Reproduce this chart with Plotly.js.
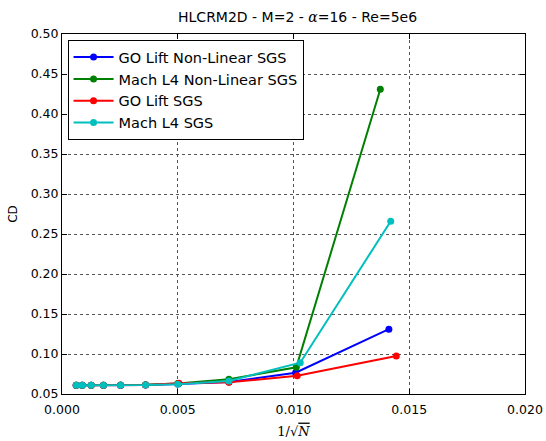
<!DOCTYPE html>
<html>
<head>
<meta charset="utf-8">
<script src="https://cdn.plot.ly/plotly-3.0.1.min.js"></script>
<style>html,body{margin:0;padding:0;background:#fff;}#chart{width:546px;height:441px;}</style>
</head>
<body>
<div id="chart"></div>
<script>
const seriesNames = ["GO Lift Non-Linear SGS", "Mach L4 Non-Linear SGS", "GO Lift SGS", "Mach L4 SGS"];
const seriesColors = ["#0000ff", "#008000", "#ff0000", "#00bfbf"];

const xGoLiftNL = [0.000614, 0.000873, 0.00126, 0.00179, 0.00253, 0.00361, 0.00500, 0.00721, 0.01009, 0.01412];
const yGoLiftNL = [0.0610, 0.0610, 0.0610, 0.0610, 0.0610, 0.0612, 0.0625, 0.0650, 0.0766, 0.131];

const xMachNL = [0.000614, 0.000873, 0.00126, 0.00179, 0.00253, 0.00361, 0.00500, 0.00721, 0.01012, 0.01375];
const yMachNL = [0.0610, 0.0610, 0.0610, 0.0610, 0.0612, 0.0615, 0.0630, 0.0684, 0.0834, 0.431];

const xGoLift = [0.000614, 0.000873, 0.00126, 0.00179, 0.00253, 0.00361, 0.00505, 0.00721, 0.01016, 0.01444];
const yGoLift = [0.0610, 0.0610, 0.0610, 0.0610, 0.0610, 0.0612, 0.0635, 0.0646, 0.0729, 0.0975];

const xMach = [0.000614, 0.000873, 0.00126, 0.00179, 0.00253, 0.00361, 0.00500, 0.00721, 0.01029, 0.01420];
const yMach = [0.0610, 0.0610, 0.0610, 0.0610, 0.0610, 0.0612, 0.0622, 0.0663, 0.0891, 0.266];

const xTickVals = [0, 0.005, 0.01, 0.015, 0.02];
const xTickText = ["0.000", "0.005", "0.010", "0.015", "0.020"];
const yTickVals = [0.05, 0.10, 0.15, 0.20, 0.25, 0.30, 0.35, 0.40, 0.45, 0.50];
const yTickText = ["0.05", "0.10", "0.15", "0.20", "0.25", "0.30", "0.35", "0.40", "0.45", "0.50"];

const xs = [xGoLiftNL, xMachNL, xGoLift, xMach];
const ys = [yGoLiftNL, yMachNL, yGoLift, yMach];

const traces = seriesNames.map((n, i) => ({
  type: "scatter", mode: "lines+markers", name: n,
  x: xs[i], y: ys[i],
  line: {color: seriesColors[i], width: 2},
  marker: {color: seriesColors[i], size: 7}
}));

const axisCommon = {
  showline: true, linecolor: "#000", linewidth: 1, mirror: "ticks",
  ticks: "inside", ticklen: 5, tickcolor: "#000",
  showgrid: true, gridcolor: "#555", gridwidth: 1, griddash: "dot",
  zeroline: false,
  tickfont: {family: "DejaVu Sans", size: 12.5, color: "#000"}
};

const layout = {
  width: 546, height: 441,
  margin: {l: 62, r: 21, t: 34, b: 47},
  paper_bgcolor: "#fff", plot_bgcolor: "#fff",
  title: {text: "HLCRM2D - M=2 - <i style='font-family:DejaVu Serif'>α</i>=16 - Re=5e6", x: 0.545, xanchor: "center", y: 0.962, yanchor: "middle",
          font: {family: "DejaVu Sans", size: 14, color: "#000"}},
  xaxis: Object.assign({}, axisCommon, {
    range: [0, 0.02], tickvals: xTickVals, ticktext: xTickText,
    ticklabelstandoff: 4,
    title: {text: "1/√<span style='text-decoration:overline'><i>N</i></span>", standoff: 10,
            font: {family: "DejaVu Serif", size: 13, color: "#000"}}
  }),
  yaxis: Object.assign({}, axisCommon, {
    range: [0.05, 0.5], tickvals: yTickVals, ticktext: yTickText,
    title: {text: "CD", standoff: 10, font: {family: "DejaVu Sans", size: 12, color: "#000"}}
  }),
  showlegend: true,
  legend: {x: 0.012, y: 0.983, xanchor: "left", yanchor: "top",
           bgcolor: "#fff", bordercolor: "#000", borderwidth: 1,
           font: {family: "DejaVu Sans", size: 14.5, color: "#000"},
           tracegroupgap: 0, itemwidth: 40}
};

Plotly.newPlot("chart", traces, layout, {displayModeBar: false, staticPlot: true});
</script>
</body>
</html>
